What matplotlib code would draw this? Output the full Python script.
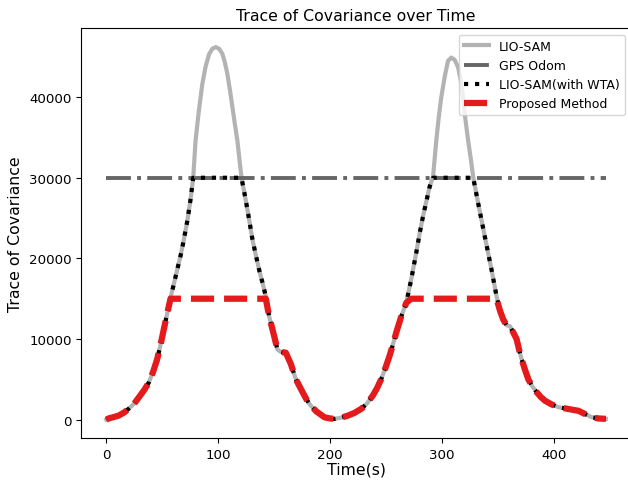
import numpy as np
import matplotlib
matplotlib.use("Agg")
import matplotlib.pyplot as plt

# time (s) and trace of covariance
time_s = [0, 2, 6, 11, 16, 20, 25, 29, 34, 38, 42, 45.5, 48.5, 51.4, 54.5, 57.4,
          60.5, 63.4, 66.5, 69.3, 72.5, 75.3, 77.7, 79.8, 82.5, 85.8, 88.8, 91.8,
          94.8, 97.8, 100.8, 103.7, 106, 108.2, 110.5, 112.7, 115, 117.2, 119,
          120.8, 122.8, 124.7, 127.7, 130.7, 133.7, 136.6, 139.6, 142.6, 145.6,
          148, 150, 153, 156, 160.5, 165, 169.5, 175.5, 179, 183, 188, 195, 200,
          204, 210, 216, 222, 228, 233, 238.3, 242, 245.7, 249.5, 253.2, 256.2,
          259.2, 263.7, 268.2, 272.6, 277.1, 280, 283.1, 286, 289.1, 292.1, 295,
          297.2, 299.5, 302.5, 305.5, 308.5, 311.5, 314.5, 317, 319, 321, 323.5,
          326, 328, 332.5, 338.4, 344.4, 348.9, 352, 354.9, 358, 360.8, 363.5,
          366.8, 369, 371.3, 374.3, 377.3, 381, 384.8, 388.5, 392.2, 398, 404.2,
          412, 418, 422.1, 428, 434, 440, 446.6]
lio_sam = [0, 150, 300, 500, 900, 1350, 2000, 2750, 3700, 4600, 6000, 7500, 9300,
           11200, 13200, 15100, 16900, 18600, 20400, 22300, 24700, 27300, 30000,
           34600, 38000, 41600, 43800, 45300, 46000, 46200, 46000, 45400, 44300,
           42900, 40900, 38800, 36600, 34600, 32300, 30100, 28600, 27200, 24800,
           22300, 20400, 18600, 17000, 15300, 12800, 11500, 10400, 8700, 8400,
           8300, 6900, 5000, 3400, 2500, 1700, 1000, 300, 150, 100, 250, 500, 850,
           1350, 2000, 3000, 3900, 5000, 6400, 7900, 9300, 10800, 12800, 14500,
           17400, 20700, 23000, 25200, 27000, 28900, 30100, 34600, 37500, 40000,
           42500, 44500, 44900, 44600, 43700, 42000, 40000, 37300, 34600, 32200,
           30100, 26800, 22700, 18600, 15300, 13500, 12400, 11700, 11600, 10900,
           10000, 8700, 7500, 6200, 5000, 4100, 3400, 2800, 2350, 1900, 1550, 1350,
           1200, 1100, 700, 300, 150, 100]

gps_trace = 30000      # GPS odometry covariance trace
proposed_cap = 15000   # level where the proposed method saturates

t = np.array(time_s)
lio = np.array(lio_sam)
gps = np.full_like(t, gps_trace)
wta = np.minimum(lio, gps_trace)
proposed = np.minimum(lio, proposed_cap)

fig = plt.figure(figsize=(6.28, 4.81), dpi=100)
ax = fig.add_axes([0.1295, 0.0867, 0.875, 0.852])

ax.plot(t, lio, color='#b3b3b3', lw=3, label='LIO-SAM')
ax.plot(t, gps, color='#666666', lw=2.8, linestyle='-.', label='GPS Odom')
ax.plot(t, wta, color='black', lw=3, linestyle=':', label='LIO-SAM(with WTA)')
ax.plot(t, proposed, color='#e41a1c', lw=4.5, linestyle='--', label='Proposed Method')

ax.set_title('Trace of Covariance over Time', fontsize=11.3)
ax.set_xlabel('Time(s)', fontsize=11.3, labelpad=0)
ax.set_ylabel('Trace of Covariance', fontsize=11.3)
ax.tick_params(labelsize=9.6)
ax.set_xticks([0, 100, 200, 300, 400])
ax.set_yticks([0, 10000, 20000, 30000, 40000])
ax.legend(loc='upper right', fontsize=9)

fig.savefig('out.png', dpi=100)
